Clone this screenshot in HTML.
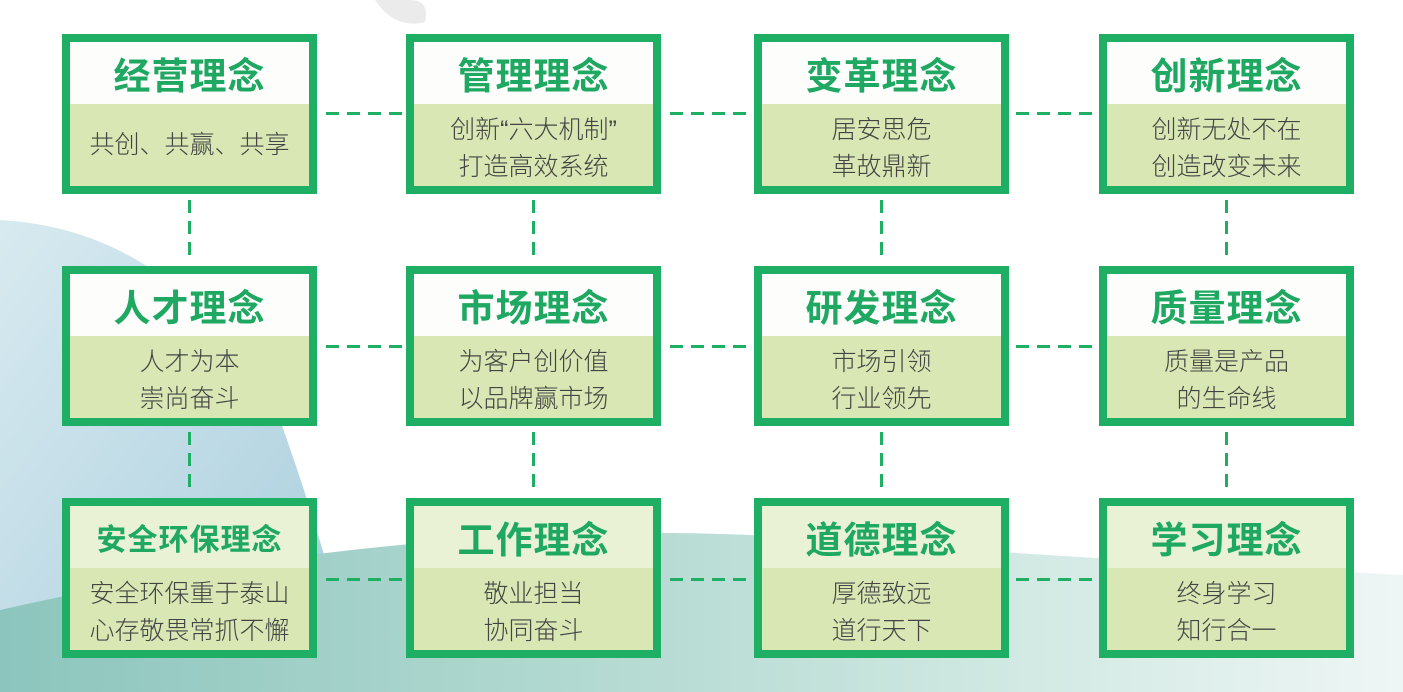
<!DOCTYPE html>
<html><head><meta charset="utf-8"><style>
body{margin:0;width:1403px;height:692px;overflow:hidden;position:relative;background:#fff;font-family:"Liberation Sans","Noto Sans CJK SC",sans-serif}
.bg{position:absolute;inset:0}
.box{position:absolute;width:239px;height:144px;border:8px solid #1faf64;background:#d8e7b3}
.t{height:62px;background:rgba(255,255,255,.95);color:#1ea862;font-weight:bold;font-size:37px;text-align:center;line-height:70px;letter-spacing:1px;overflow:hidden}
.r3 .t{background:rgba(255,255,255,.45)}
.b{font-size:25px;color:#444;font-weight:300;text-align:center;line-height:37px;padding-top:8px}
.h{position:absolute;height:3px;background:repeating-linear-gradient(90deg,#1faf64 0 13px,transparent 13px 21px)}
.v{position:absolute;width:3px;background:repeating-linear-gradient(180deg,#1faf64 0 13px,transparent 13px 21px)}
</style></head><body>
<svg class="bg" width="1403" height="692">
<defs>
<linearGradient id="g1" x1="0" y1="0" x2="1" y2="0"><stop offset="0" stop-color="#8cc5bd"/><stop offset="0.55" stop-color="#bfe0d8"/><stop offset="1" stop-color="#eef6f5"/></linearGradient>
<linearGradient id="g2" x1="0" y1="0" x2="1" y2="1"><stop offset="0" stop-color="#d8eaf0"/><stop offset="1" stop-color="#a6ccdc"/></linearGradient>
</defs>
<path d="M0 220 Q180 230 280 420 Q330 560 360 692 L0 692Z" fill="url(#g2)"/>
<path d="M0 610 Q400 520 750 535 Q1100 560 1403 575 L1403 692 L0 692Z" fill="url(#g1)"/>
<path d="M375 0 Q395 30 425 22 Q430 0 410 0Z" fill="#e2e2e2" opacity=".7"/>
</svg>
<div class="h" style="left:326px;top:112px;width:76px"></div>
<div class="h" style="left:670px;top:112px;width:80px"></div>
<div class="h" style="left:1016px;top:112px;width:80px"></div>
<div class="h" style="left:326px;top:345px;width:76px"></div>
<div class="h" style="left:670px;top:345px;width:80px"></div>
<div class="h" style="left:1016px;top:345px;width:80px"></div>
<div class="h" style="left:326px;top:578px;width:76px"></div>
<div class="h" style="left:670px;top:578px;width:80px"></div>
<div class="h" style="left:1016px;top:578px;width:80px"></div>
<div class="v" style="left:188px;top:200px;height:62px"></div>
<div class="v" style="left:532px;top:200px;height:62px"></div>
<div class="v" style="left:880px;top:200px;height:62px"></div>
<div class="v" style="left:1225px;top:200px;height:62px"></div>
<div class="v" style="left:188px;top:432px;height:62px"></div>
<div class="v" style="left:532px;top:432px;height:62px"></div>
<div class="v" style="left:880px;top:432px;height:62px"></div>
<div class="v" style="left:1225px;top:432px;height:62px"></div>

<div class="box" style="left:62px;top:34px"><div class="t">经营理念</div><div class="b" style="line-height:74px;padding-top:4px">共创、共赢、共享</div></div>
<div class="box" style="left:406px;top:34px"><div class="t">管理理念</div><div class="b">创新“六大机制”<br>打造高效系统</div></div>
<div class="box" style="left:754px;top:34px"><div class="t">变革理念</div><div class="b">居安思危<br>革故鼎新</div></div>
<div class="box" style="left:1099px;top:34px"><div class="t">创新理念</div><div class="b">创新无处不在<br>创造改变未来</div></div>

<div class="box" style="left:62px;top:266px"><div class="t">人才理念</div><div class="b">人才为本<br>崇尚奋斗</div></div>
<div class="box" style="left:406px;top:266px"><div class="t">市场理念</div><div class="b">为客户创价值<br>以品牌赢市场</div></div>
<div class="box" style="left:754px;top:266px"><div class="t">研发理念</div><div class="b">市场引领<br>行业领先</div></div>
<div class="box" style="left:1099px;top:266px"><div class="t">质量理念</div><div class="b">质量是产品<br>的生命线</div></div>

<div class="box r3" style="left:62px;top:498px"><div class="t" style="font-size:30px">安全环保理念</div><div class="b">安全环保重于泰山<br>心存敬畏常抓不懈</div></div>
<div class="box r3" style="left:406px;top:498px"><div class="t">工作理念</div><div class="b">敬业担当<br>协同奋斗</div></div>
<div class="box r3" style="left:754px;top:498px"><div class="t">道德理念</div><div class="b">厚德致远<br>道行天下</div></div>
<div class="box r3" style="left:1099px;top:498px"><div class="t">学习理念</div><div class="b">终身学习<br>知行合一</div></div>
</body></html>
